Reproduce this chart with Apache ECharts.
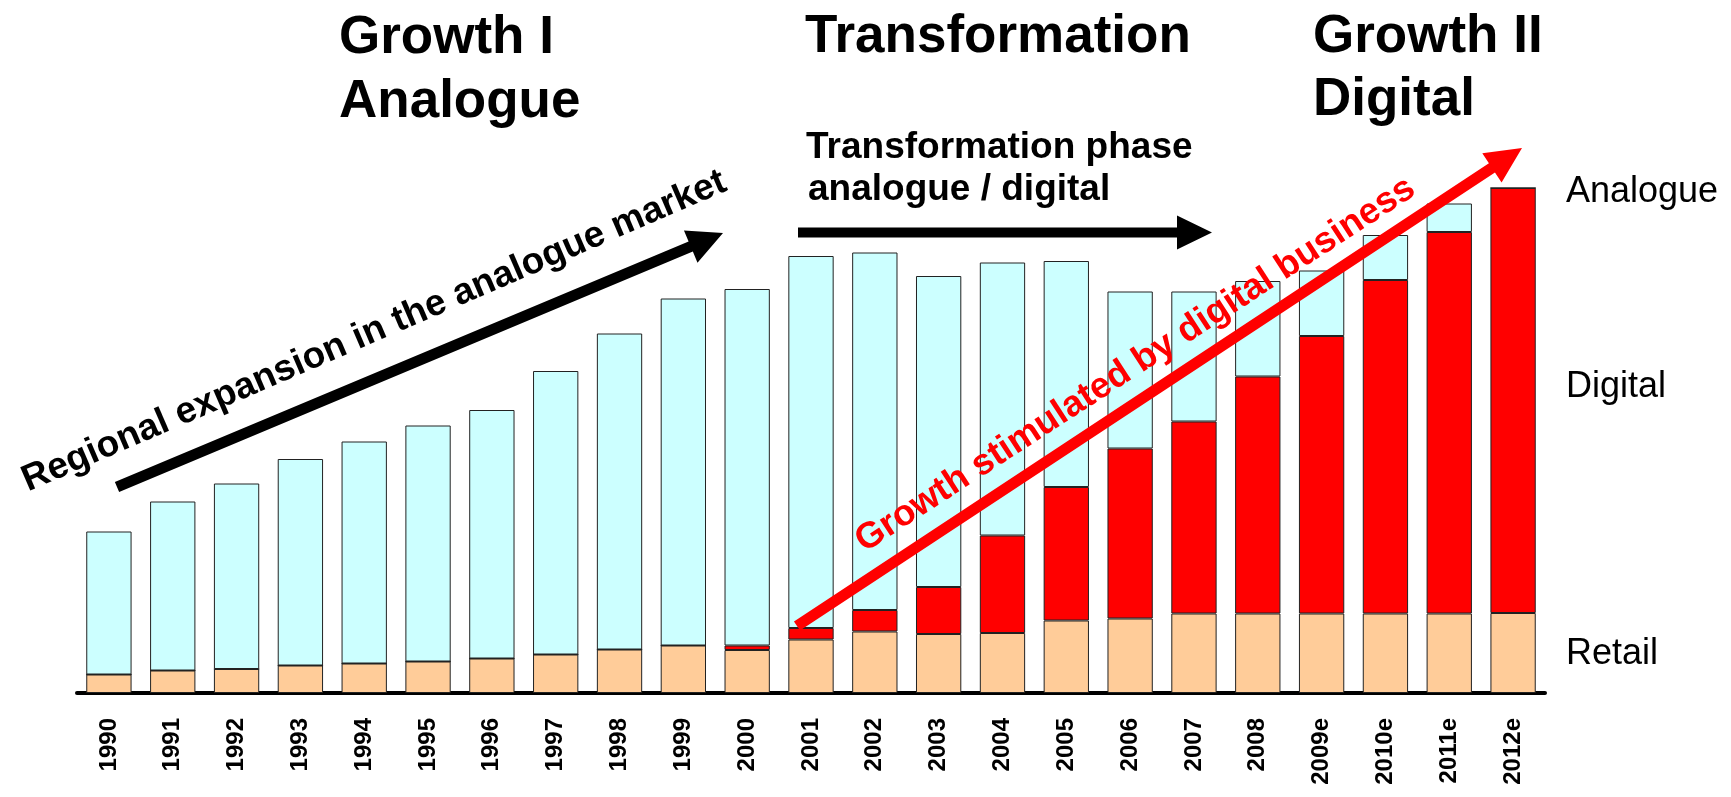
<!DOCTYPE html>
<html>
<head>
<meta charset="utf-8">
<script src="https://cdn.jsdelivr.net/npm/echarts@6/dist/echarts.min.js"></script>
<style>
html,body{margin:0;padding:0;background:#fff;}
#chart{width:1731px;height:797px;}
</style>
</head>
<body>
<div id="chart"></div>
<script>
var years = ['1990','1991','1992','1993','1994','1995','1996','1997','1998','1999','2000','2001','2002','2003','2004','2005','2006','2007','2008','2009e','2010e','2011e','2012e'];
var retail   = [3.7,4.5,4.8,5.5,5.9,6.3,6.9,7.7,8.7,9.5,8.6,10.7,12.3,11.8,12.0,14.5,14.9,15.9,15.9,15.9,15.9,15.9,16.0];
var digital  = [0,0,0,0,0,0,0,0,0,0,0.9,2.3,4.3,9.4,19.5,26.7,34.0,38.4,47.4,55.5,66.7,76.3,85.0];
var analogue = [28.6,33.8,37.1,41.3,44.4,47.2,49.7,56.7,63.2,69.4,71.3,74.4,71.5,62.2,54.6,45.2,31.4,26.0,19.1,13.1,9.0,5.7,0];

var FONT = '"Liberation Sans", Arial, sans-serif';

function arrowPoints(x1, y1, x2, y2, w, hl, hw) {
  var dx = x2 - x1, dy = y2 - y1, L = Math.sqrt(dx*dx + dy*dy);
  var ux = dx / L, uy = dy / L, nx = -uy, ny = ux;
  var bx = x2 - ux*hl, by = y2 - uy*hl;
  return [
    [x1 + nx*w/2, y1 + ny*w/2],
    [bx + nx*w/2, by + ny*w/2],
    [bx + nx*hw/2, by + ny*hw/2],
    [x2, y2],
    [bx - nx*hw/2, by - ny*hw/2],
    [bx - nx*w/2, by - ny*w/2],
    [x1 - nx*w/2, y1 - ny*w/2]
  ];
}
function txt(x, y, text, size, bold, color, rotDeg) {
  return {
    type: 'text', x: x, y: y, rotation: (rotDeg || 0) * Math.PI / 180, z: 100,
    style: {
      text: text, x: 0, y: -0.35 * size, fill: color || '#000',
      font: (bold ? 'bold ' : '') + size + 'px ' + FONT,
      align: 'left', verticalAlign: 'middle'
    }
  };
}
function arrow(x1, y1, x2, y2, w, hl, hw, color) {
  return { type: 'polygon', z: 90, shape: { points: arrowPoints(x1, y1, x2, y2, w, hl, hw) }, style: { fill: color } };
}

function mk(name, data, color) {
  return {
    name: name, type: 'bar', stack: 'total', data: data,
    barCategoryGap: '29%',
    itemStyle: { color: color, borderColor: '#222', borderWidth: 1 },
    emphasis: { disabled: true }
  };
}

var chart = echarts.init(document.getElementById('chart'));
chart.setOption({
  backgroundColor: '#fff',
  animation: false,
  grid: { left: 77, right: 186, top: 93, bottom: 104 },
  xAxis: {
    type: 'category', data: years,
    axisLine: { lineStyle: { color: '#000', width: 4 } },
    axisTick: { show: false },
    axisLabel: { rotate: 90, margin: 25, fontSize: 24, fontWeight: 'bold', color: '#000', fontFamily: FONT, interval: 0 }
  },
  yAxis: { type: 'value', min: 0, max: 120, show: false },
  series: [
    mk('Retail', retail, '#FFCC99'),
    mk('Digital', digital, '#FF0000'),
    mk('Analogue', analogue, '#CCFFFF')
  ],
  graphic: [
    txt(339, 57, 'Growth I', 53, true),
    txt(339, 121, 'Analogue', 53, true),
    txt(805, 56, 'Transformation', 53, true),
    txt(1313, 56, 'Growth II', 53, true),
    txt(1313, 119, 'Digital', 53, true),
    txt(806, 161, 'Transformation phase', 37, true),
    txt(808, 203, 'analogue / digital', 37, true),
    txt(1566, 205, 'Analogue', 36, false),
    txt(1566, 400, 'Digital', 36, false),
    txt(1566, 667, 'Retail', 36, false),
    arrow(798, 232.5, 1212, 232.5, 10, 35, 34, '#000'),
    arrow(117, 487, 723, 233, 11, 35, 35, '#000'),
    arrow(797, 626, 1522, 148, 11, 36, 35, '#FF0000'),
    txt(29, 494, 'Regional expansion in the analogue market', 37, true, '#000', 23.3),
    txt(866, 555, 'Growth stimulated by digital business', 36.5, true, '#FF0000', 33)
  ]
});
</script>
</body>
</html>
